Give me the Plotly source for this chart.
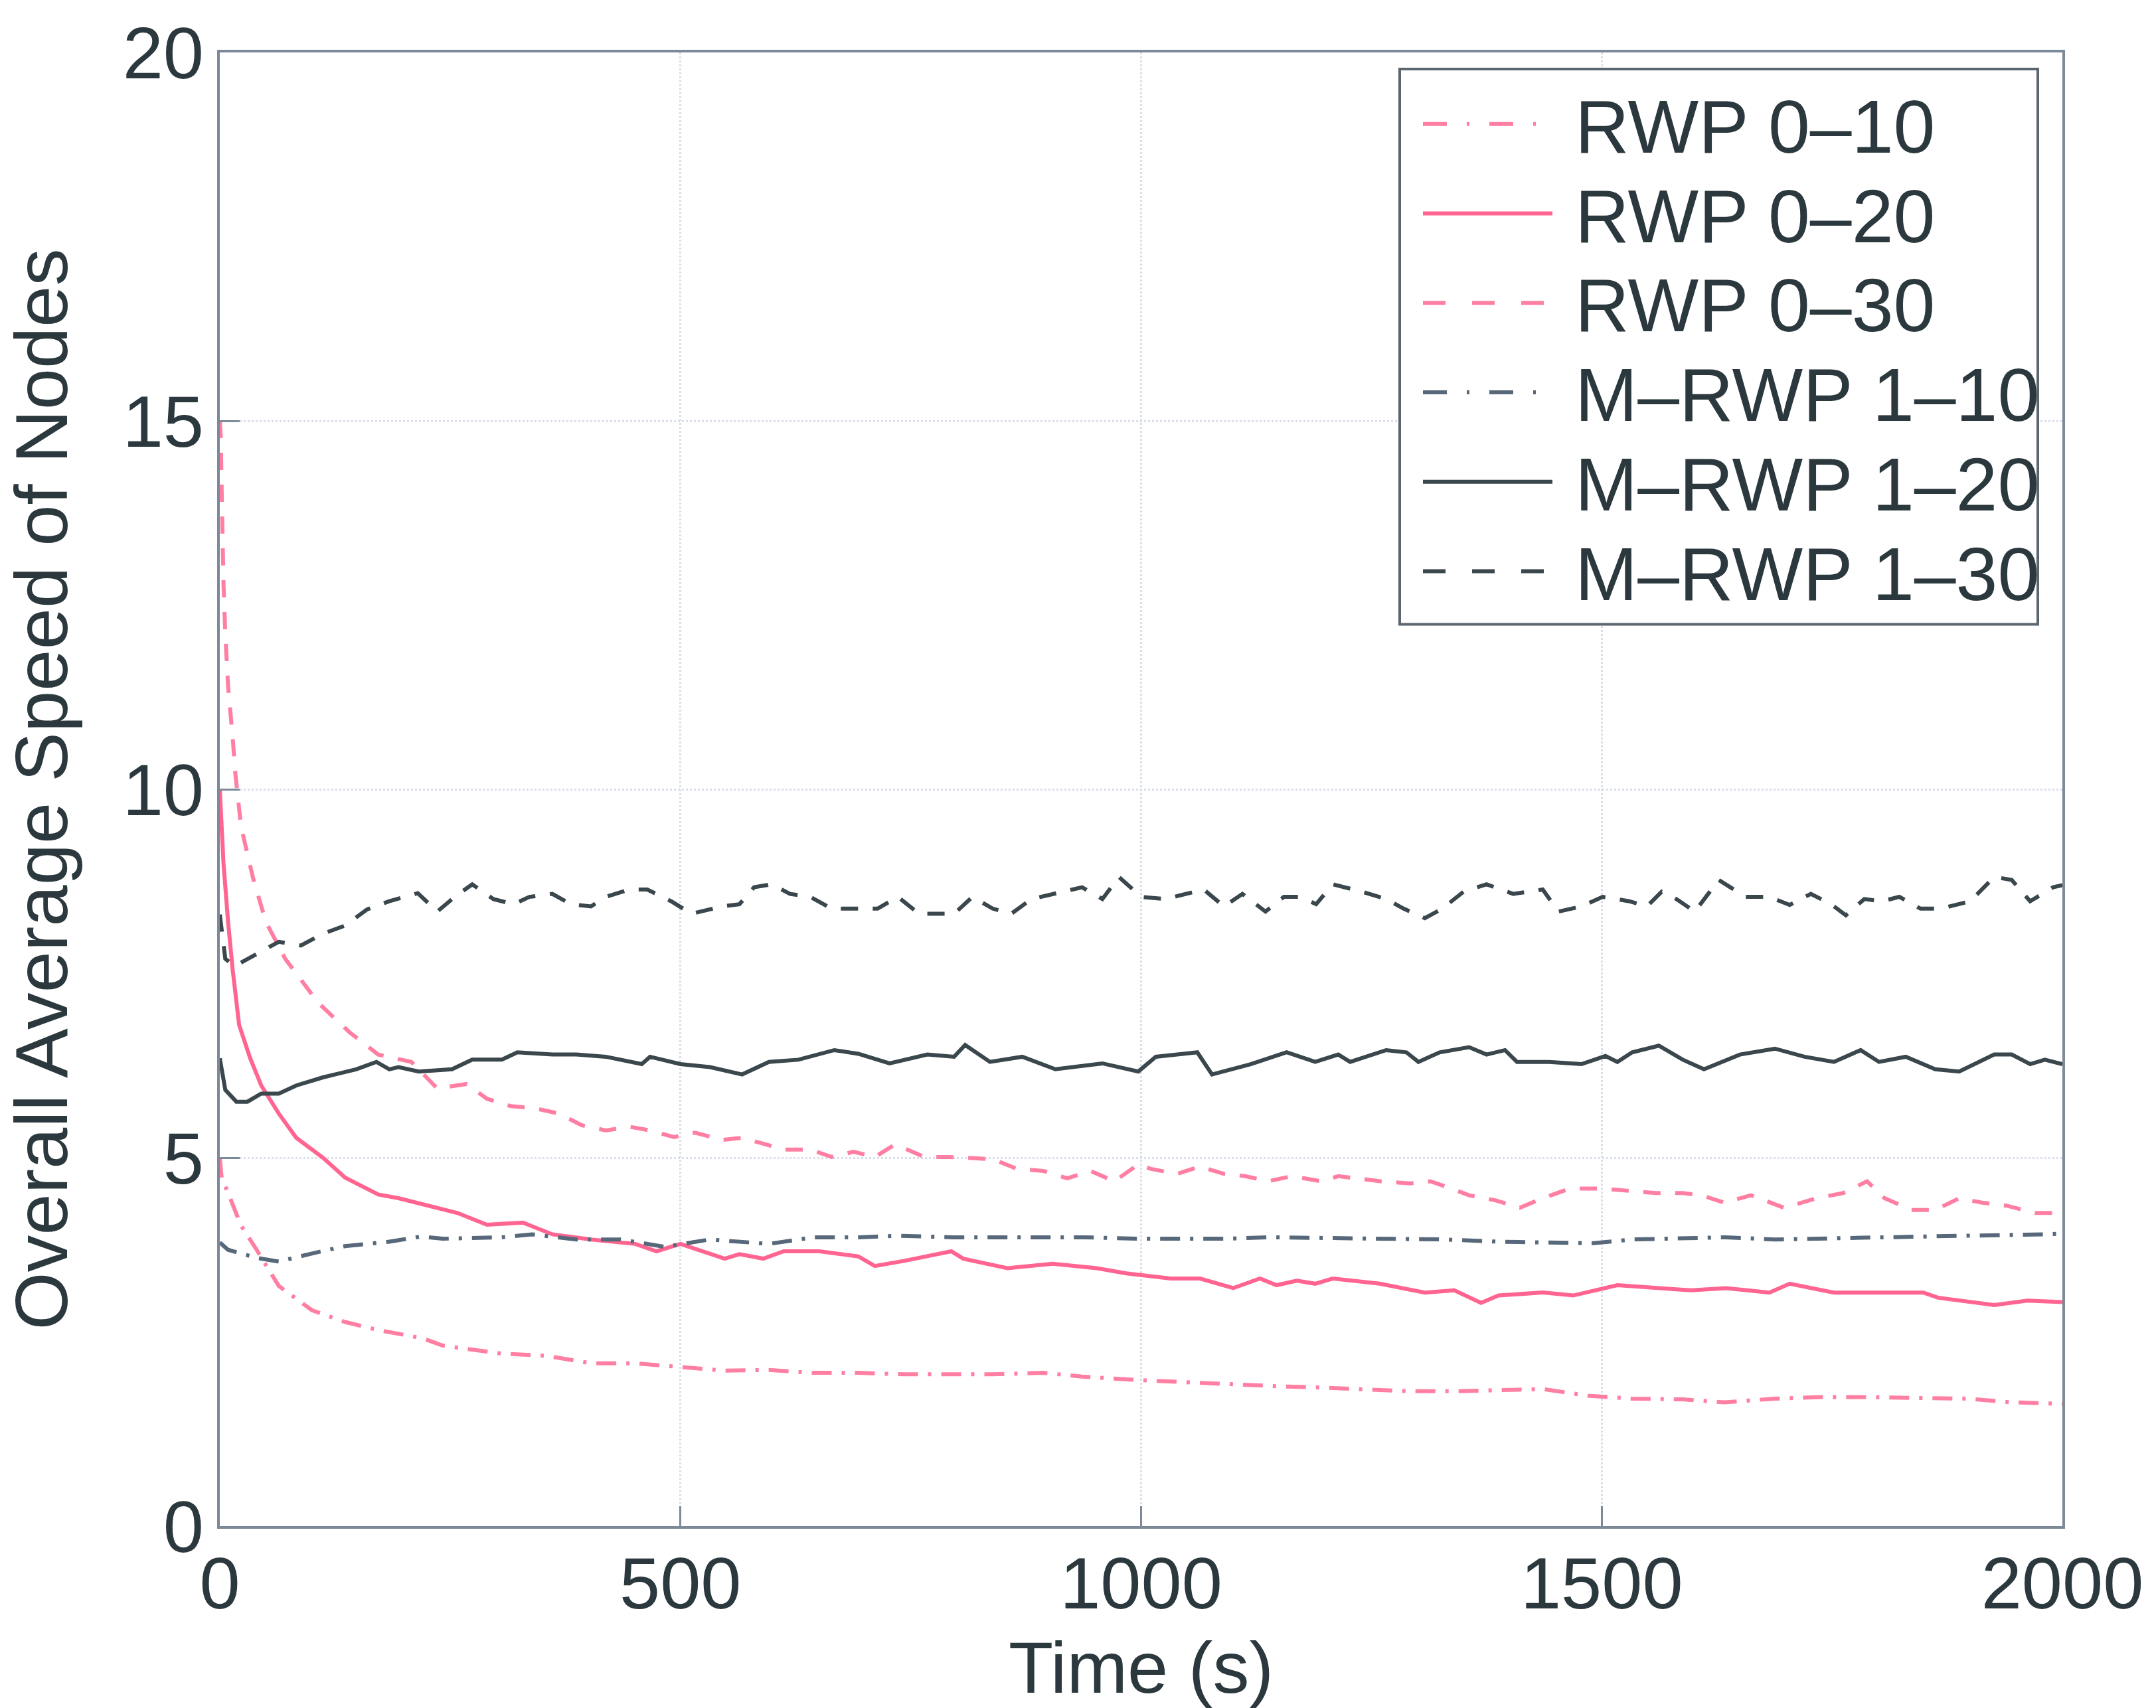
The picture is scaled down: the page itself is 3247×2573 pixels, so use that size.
import plotly.graph_objects as go

# ---------------- data ----------------
t_rwp_0_10 = [0, 2, 11, 23, 40, 64, 100, 136, 172, 220, 242, 307, 355, 403, 451, 500, 548, 596, 644, 693,
              743, 797, 839, 894, 936, 1000, 1048, 1097, 1145, 1195, 1237, 1292, 1340, 1388, 1436, 1485,
              1533, 1588, 1633, 1688, 1736, 1785, 1833, 1897, 1945, 2000]
v_rwp_0_10 = [5.0, 4.73, 4.46, 4.08, 3.75, 3.26, 2.93, 2.77, 2.66, 2.55, 2.45, 2.34, 2.31, 2.21, 2.21, 2.16,
              2.11, 2.12, 2.08, 2.08, 2.06, 2.06, 2.06, 2.08, 2.03, 1.98, 1.95, 1.93, 1.9, 1.88, 1.86, 1.83,
              1.83, 1.85, 1.86, 1.77, 1.73, 1.72, 1.68, 1.73, 1.75, 1.75, 1.74, 1.73, 1.68, 1.66]

t_rwp_0_20 = [0, 4, 9, 14, 21, 33, 45, 64, 83, 112, 136, 172, 194, 226, 258, 290, 329, 361, 403, 451,
              474, 500, 532, 548, 564, 590, 612, 651, 693, 711, 743, 794, 807, 855, 904, 952, 984, 1032,
              1064, 1100, 1129, 1147, 1169, 1189, 1208, 1259, 1308, 1340, 1369, 1388, 1436, 1469, 1517,
              1565, 1597, 1635, 1682, 1704, 1752, 1801, 1849, 1865, 1926, 1962, 2000]
v_rwp_0_20 = [10.0, 9.0, 8.2, 7.55, 6.8, 6.35, 5.98, 5.6, 5.27, 5.0, 4.73, 4.5, 4.45, 4.35, 4.25, 4.09,
              4.12, 3.96, 3.89, 3.83, 3.73, 3.83, 3.69, 3.63, 3.69, 3.63, 3.73, 3.73, 3.66, 3.53, 3.6,
              3.73, 3.63, 3.5, 3.56, 3.5, 3.43, 3.36, 3.36, 3.23, 3.36, 3.27, 3.33, 3.29, 3.36, 3.29,
              3.17, 3.2, 3.03, 3.13, 3.17, 3.13, 3.27, 3.23, 3.2, 3.23, 3.17, 3.29, 3.17, 3.17, 3.17,
              3.1, 3.0, 3.06, 3.04]

t_rwp_0_30 = [0, 1, 2, 3, 4, 6, 9, 14, 17, 23, 36, 50, 71, 107, 141, 172, 208, 236, 268, 290, 316, 342,
              368, 393, 419, 445, 467, 493, 516, 545, 567, 593, 612, 641, 664, 688, 711, 733, 765, 791,
              839, 865, 894, 920, 945, 971, 997, 1010, 1039, 1064, 1090, 1113, 1138, 1164, 1195, 1214,
              1260, 1292, 1314, 1337, 1356, 1385, 1411, 1436, 1465, 1501, 1527, 1559, 1588, 1608, 1633,
              1662, 1698, 1733, 1762, 1788, 1807, 1836, 1862, 1888, 1913, 1939, 1971, 2000]
v_rwp_0_30 = [15.0, 14.8, 14.1, 13.4, 12.8, 12.1, 11.4, 10.7, 10.2, 9.5, 8.8, 8.2, 7.7, 7.1, 6.7, 6.4,
              6.3, 5.94, 6.0, 5.8, 5.7, 5.67, 5.6, 5.44, 5.37, 5.42, 5.37, 5.28, 5.34, 5.24, 5.27, 5.18,
              5.11, 5.11, 5.01, 5.08, 5.01, 5.18, 5.01, 5.01, 4.98, 4.85, 4.82, 4.72, 4.82, 4.68, 4.91,
              4.85, 4.78, 4.88, 4.78, 4.75, 4.68, 4.75, 4.68, 4.75, 4.68, 4.65, 4.68, 4.58, 4.49, 4.42,
              4.32, 4.45, 4.58, 4.58, 4.55, 4.52, 4.52, 4.49, 4.39, 4.49, 4.32, 4.45, 4.52, 4.68, 4.45,
              4.29, 4.29, 4.45, 4.39, 4.35, 4.25, 4.25]

t_mrwp_1_10 = [0, 9, 40, 64, 100, 136, 184, 218, 242, 306, 339, 387, 435, 483, 532, 596, 644, 693, 736,
               797, 839, 897, 939, 997, 1035, 1093, 1138, 1227, 1330, 1388, 1491, 1533, 1635, 1688, 1785,
               1888, 1984, 2000]
v_mrwp_1_10 = [3.85, 3.75, 3.64, 3.59, 3.7, 3.8, 3.86, 3.93, 3.9, 3.92, 3.96, 3.89, 3.89, 3.79, 3.89,
               3.83, 3.92, 3.92, 3.94, 3.92, 3.92, 3.92, 3.92, 3.9, 3.9, 3.9, 3.92, 3.9, 3.89, 3.86, 3.84,
               3.89, 3.92, 3.89, 3.92, 3.94, 3.96, 3.97]

t_mrwp_1_20 = [0, 6, 18, 30, 45, 64, 83, 112, 148, 170, 184, 194, 216, 252, 274, 306, 323, 361, 387, 419,
               458, 467, 500, 532, 567, 596, 628, 667, 693, 727, 768, 797, 809, 836, 871, 907, 958, 997,
               1016, 1061, 1077, 1119, 1158, 1189, 1214, 1227, 1266, 1288, 1301, 1324, 1356, 1375, 1395,
               1408, 1443, 1478, 1504, 1517, 1533, 1562, 1588, 1611, 1650, 1688, 1720, 1752, 1781, 1801,
               1830, 1862, 1888, 1926, 1945, 1965, 1981, 2000]
v_mrwp_1_20 = [6.35, 5.92, 5.76, 5.76, 5.87, 5.87, 5.98, 6.09, 6.2, 6.3, 6.2, 6.23, 6.17, 6.2, 6.33, 6.33,
               6.43, 6.4, 6.4, 6.37, 6.27, 6.37, 6.27, 6.23, 6.13, 6.3, 6.33, 6.46, 6.41, 6.28, 6.4, 6.37,
               6.53, 6.3, 6.37, 6.2, 6.28, 6.17, 6.37, 6.43, 6.13, 6.27, 6.43, 6.3, 6.4, 6.3, 6.46, 6.43,
               6.3, 6.43, 6.5, 6.4, 6.46, 6.3, 6.3, 6.27, 6.38, 6.3, 6.43, 6.52, 6.33, 6.2, 6.4, 6.48,
               6.37, 6.3, 6.46, 6.3, 6.37, 6.2, 6.17, 6.4, 6.4, 6.27, 6.33, 6.27]

t_mrwp_1_30 = [0, 6, 16, 40, 64, 88, 112, 136, 160, 184, 215, 236, 255, 274, 297, 319, 336, 361, 381, 403,
               419, 445, 464, 490, 512, 545, 564, 580, 599, 619, 641, 664, 693, 714, 736, 759, 797, 817,
               839, 859, 881, 907, 936, 958, 976, 1000, 1026, 1068, 1090, 1110, 1135, 1155, 1173, 1190,
               1208, 1240, 1266, 1285, 1308, 1327, 1350, 1375, 1404, 1436, 1453, 1478, 1501, 1530, 1549,
               1565, 1581, 1601, 1627, 1656, 1682, 1704, 1727, 1749, 1765, 1785, 1804, 1823, 1846, 1868,
               1900, 1926, 1945, 1965, 1990, 2000]
v_mrwp_1_30 = [8.3, 7.7, 7.6, 7.77, 7.93, 7.88, 8.04, 8.15, 8.37, 8.48, 8.59, 8.34, 8.54, 8.71, 8.51,
               8.44, 8.54, 8.58, 8.44, 8.41, 8.54, 8.64, 8.64, 8.48, 8.31, 8.41, 8.44, 8.67, 8.71, 8.58,
               8.54, 8.38, 8.38, 8.38, 8.54, 8.31, 8.31, 8.54, 8.38, 8.31, 8.51, 8.58, 8.67, 8.51, 8.81,
               8.54, 8.51, 8.64, 8.41, 8.58, 8.34, 8.54, 8.54, 8.44, 8.71, 8.61, 8.51, 8.38, 8.25, 8.38,
               8.61, 8.71, 8.58, 8.64, 8.34, 8.41, 8.54, 8.48, 8.41, 8.61, 8.51, 8.34, 8.77, 8.54, 8.54,
               8.43, 8.58, 8.44, 8.29, 8.51, 8.48, 8.54, 8.38, 8.38, 8.48, 8.81, 8.77, 8.48, 8.67, 8.7]

series_names = ["RWP 0–10", "RWP 0–20", "RWP 0–30", "M–RWP 1–10", "M–RWP 1–20", "M–RWP 1–30"]
x_ticks = [0, 500, 1000, 1500, 2000]
y_ticks = [0, 5, 10, 15, 20]

# ---------------- styles ----------------
PINK = "#ff6590"
PINK_LIGHT = "#ff7fa3"
DARK = "#3a474c"
SLATE = "#56687a"
DASH = "26px,22px"
DASHDOT = "30px,15px,5px,15px"
LEG_DASH = "34px,40px"
LEG_DASHDOT = "36px,30px,4px,30px"
TEXT = "#2b383d"
AXIS = "#7b8998"

series = [
    (t_rwp_0_10, v_rwp_0_10, PINK_LIGHT, DASHDOT, LEG_DASHDOT),
    (t_rwp_0_20, v_rwp_0_20, PINK, "solid", "solid"),
    (t_rwp_0_30, v_rwp_0_30, PINK_LIGHT, DASH, LEG_DASH),
    (t_mrwp_1_10, v_mrwp_1_10, SLATE, DASHDOT, LEG_DASHDOT),
    (t_mrwp_1_20, v_mrwp_1_20, DARK, "solid", "solid"),
    (t_mrwp_1_30, v_mrwp_1_30, DARK, DASH, LEG_DASH),
]

fig = go.Figure()
for name, (t, v, col, dash, _ld) in zip(series_names, series):
    assert len(t) == len(v), name
    fig.add_trace(go.Scatter(x=t, y=v, mode="lines", name=name, showlegend=False,
                             line=dict(color=col, width=6, dash=dash)))

axis_common = dict(
    showline=True, mirror=True, linecolor=AXIS, linewidth=4,
    ticks="inside", ticklen=30, tickwidth=3, tickcolor=AXIS,
    showgrid=True, gridcolor="#d9deeb", gridwidth=3, griddash="dot",
    zeroline=False, tickfont=dict(size=110, color=TEXT),
)

fig.update_xaxes(range=[0, 2000], tickvals=x_ticks, ticklabelstandoff=-12,
                 title=dict(text="Time (s)", font=dict(size=110, color=TEXT), standoff=38),
                 **axis_common)
fig.update_yaxes(range=[0, 20], tickvals=y_ticks, ticklabelstandoff=-2,
                 title=dict(text="Overall Average Speed of Nodes", font=dict(size=112, color=TEXT),
                            standoff=64),
                 **axis_common)

# ---------------- legend box drawn in paper coordinates ----------------
PL, PR, PT, PB = 331, 3106, 79, 2303          # plot area in page pixels
W, H = PR - PL, PB - PT
px = lambda x: (x - PL) / W
py = lambda y: (PB - y) / H

shapes = [dict(type="rect", xref="paper", yref="paper", layer="above",
               x0=px(2108), x1=px(3069), y0=py(942), y1=py(104),
               fillcolor="white", line=dict(color="#5b6670", width=4))]
annotations = []
row_y = [187, 322, 457, 592, 727, 862]
for name, (_t, _v, col, _d, ldash), ry in zip(series_names, series, row_y):
    shapes.append(dict(type="line", xref="paper", yref="paper", layer="above",
                       x0=px(2143), x1=px(2338), y0=py(ry), y1=py(ry),
                       line=dict(color=col, width=6, dash=ldash)))
    annotations.append(dict(text=name, xref="paper", yref="paper", x=px(2370), y=py(ry + 4),
                            xanchor="left", yanchor="middle", showarrow=False,
                            font=dict(size=113, color=TEXT)))

fig.update_layout(
    width=3247, height=2573,
    margin=dict(l=PL, r=3247 - PR, t=PT, b=2573 - PB),
    paper_bgcolor="white", plot_bgcolor="white",
    font=dict(family="Liberation Sans, Arial, Helvetica, sans-serif", size=110, color=TEXT),
    shapes=shapes, annotations=annotations,
    showlegend=False,
)

fig.write_html("out.html")
